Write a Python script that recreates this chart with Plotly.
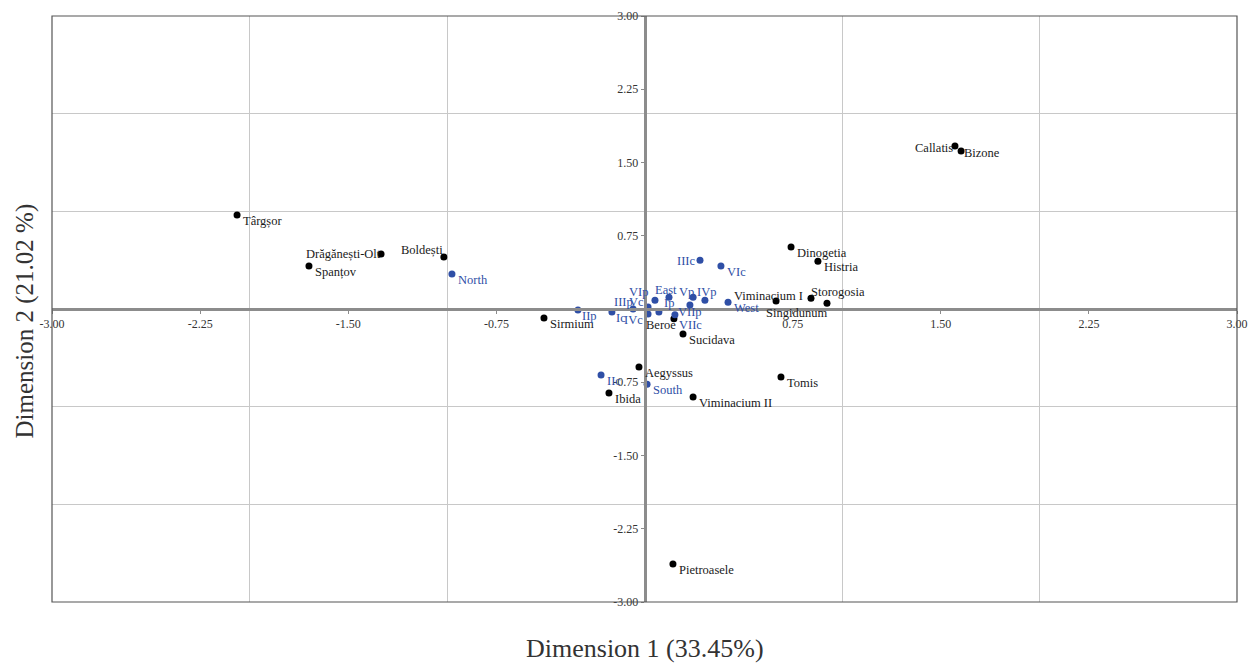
import plotly.graph_objects as go

# ---- data ----
# Sites (black)
site_names = ["Târgșor", "Drăgănești-Olt", "Spanțov", "Boldești", "Sirmium", "Beroe",
              "Sucidava", "Aegyssus", "Ibida", "Viminacium II", "Tomis", "Pietroasele",
              "Callatis", "Bizone", "Dinogetia", "Histria", "Viminacium I", "Storogosia",
              "Singidunum"]
site_x = [-2.063, -1.334, -1.699, -1.016, -0.509, 0.149, 0.195, -0.028, -0.180, 0.246,
          0.691, 0.144, 1.572, 1.603, 0.742, 0.878, 0.843, 0.924, 0.666]
site_y = [0.962, 0.563, 0.440, 0.532, -0.092, -0.100, -0.256, -0.594, -0.860, -0.900,
          -0.696, -2.610, 1.668, 1.617, 0.635, 0.490, 0.110, 0.060, 0.082]

# Categories (blue)
cat_names = ["IIIc", "VIc", "North", "IIc", "South", "West", "IIp", "Ic", "IIIp", "Vc",
             "VIp", "East", "Vp", "IVp", "Ip", "IVc", "VIIp", "VIIc"]
cat_x = [0.281, 0.387, -0.975, -0.220, 0.013, 0.423, -0.337, -0.165, -0.058, 0.018,
         0.053, 0.124, 0.246, 0.306, 0.073, 0.018, 0.230, 0.154]
cat_y = [0.500, 0.440, 0.358, -0.675, -0.770, 0.070, -0.010, -0.030, 0.000, 0.020,
         0.090, 0.120, 0.120, 0.090, -0.030, -0.050, 0.040, -0.060]

tick_vals = [-3.0, -2.25, -1.5, -0.75, 0.75, 1.5, 2.25, 3.0]
tick_text = ["-3.00", "-2.25", "-1.50", "-0.75", "0.75", "1.50", "2.25", "3.00"]
grid_vals = [-2, -1, 1, 2]

# ---- label placement style: (xanchor, xshift px, yshift px) ----
DEFAULT_LBL = ("left", 4, -6)
label_style = {
    "Drăgănești-Olt": ("right", 2, 0),
    "Boldești": ("right", 1, 7),
    "Beroe": ("right", 4, -6),
    "Callatis": ("right", 0, -2),
    "Bizone": ("left", 1, -2),
    "Viminacium I": ("right", -6, 2),
    "Storogosia": ("center", 11, 11),
    "Singidunum": ("center", 20, -12),
    "IIIc": ("right", -3, -1),
    "IIp": ("left", 2, -6),
    "Ic": ("left", 2, -6),
    "IIIp": ("right", 2, 7),
    "Vc": ("right", -2, 5),
    "VIp": ("right", -5, 8),
    "East": ("center", -3, 7),
    "Vp": ("center", -7, 5),
    "IVp": ("center", 2, 8),
    "Ip": ("left", 3, 9),
    "IVc": ("right", -3, -6),
    "VIIp": ("center", 0, -7),
    "VIIc": ("left", 2, -10),
}

BLUE = "#2f4fa6"
FONT = "Liberation Serif"

fig = go.Figure()
fig.add_trace(go.Scatter(
    x=site_x, y=site_y, mode="markers", marker=dict(color="black", size=7),
    cliponaxis=False, showlegend=False, hoverinfo="skip"))
fig.add_trace(go.Scatter(
    x=cat_x, y=cat_y, mode="markers", marker=dict(color=BLUE, size=7),
    cliponaxis=False, showlegend=False, hoverinfo="skip"))

def add_labels(names, xs, ys, color):
    for n, x, y in zip(names, xs, ys):
        xa, dx, dy = label_style.get(n, DEFAULT_LBL)
        fig.add_annotation(x=x, y=y, xref="x", yref="y", text=n, showarrow=False,
                           xanchor=xa, yanchor="middle", xshift=dx, yshift=dy,
                           font=dict(family=FONT, size=12.5, color=color))

add_labels(site_names, site_x, site_y, "#1a1a1a")
add_labels(cat_names, cat_x, cat_y, BLUE)

axis_common = dict(
    range=[-3, 3], tickvals=tick_vals, ticktext=tick_text, showgrid=False,
    zeroline=False, showline=True, linecolor="#8c8c8c", linewidth=2.5,
    ticks="outside", ticklen=3, tickcolor="#8c8c8c", tickwidth=1,
    tickfont=dict(family=FONT, size=12, color="#333"),
    anchor="free", position=0.5, automargin=False,
    minor=dict(tickvals=grid_vals, showgrid=True, gridcolor="#c8c8c8", gridwidth=1, ticks=""),
)
fig.update_xaxes(**axis_common)
fig.update_yaxes(**axis_common)

fig.add_shape(type="rect", xref="paper", yref="paper", x0=0, y0=0, x1=1, y1=1,
              line=dict(color="#555", width=1.2), layer="above")

fig.add_annotation(text="Dimension 1 (33.45%)", xref="paper", yref="paper", x=0.5, y=-0.079,
                   showarrow=False, yanchor="middle",
                   font=dict(family=FONT, size=26, color="#333"))
fig.add_annotation(text="Dimension 2 (21.02 %)", xref="paper", yref="paper", x=-0.023, y=0.48,
                   showarrow=False, textangle=-90, xanchor="center", yanchor="middle",
                   font=dict(family=FONT, size=25, color="#333"))

fig.update_layout(
    width=1249, height=664,
    margin=dict(l=52, r=12, t=16, b=62, autoexpand=False),
    plot_bgcolor="white", paper_bgcolor="white",
)

fig.write_html("out.html", config={"displayModeBar": False},
               post_script="document.body.style.margin='0';document.body.style.overflow='hidden';")
